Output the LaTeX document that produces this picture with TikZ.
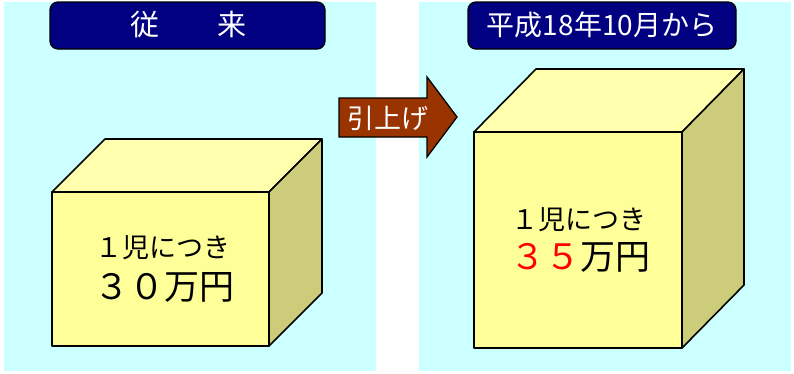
\documentclass[tikz,border=0pt]{standalone}
\usepackage{fontspec}
\setmainfont{Noto Sans CJK JP}
\definecolor{panel}{HTML}{CCFFFF}
\definecolor{navy}{HTML}{000080}
\definecolor{cubefront}{HTML}{FFFF99}
\definecolor{cubetop}{HTML}{FFFFAD}
\definecolor{cubeside}{HTML}{CCCC7A}
\definecolor{arrowbrown}{HTML}{993300}
\definecolor{bigred}{HTML}{FF0000}
\tikzset{
  panelbox/.style={fill=panel, draw=none, inner sep=0pt, outer sep=0pt, anchor=north west},
  titlebox/.style={draw=black, line width=1.3pt, fill=navy, rounded corners=8pt, text=white, inner sep=0pt},
  titletext/.style={text=white, inner sep=0pt},
  cubeface/.style={draw=black, line width=1.6pt, line join=round},
  smalltext/.style={inner sep=0pt, font=\fontsize{27}{30}\selectfont},
  bigtext/.style={inner sep=0pt, font=\fontsize{35}{40}\selectfont},
  arrowshape/.style={fill=arrowbrown, draw=black, line width=1.3pt, line join=miter},
}
\begin{document}
\begin{tikzpicture}[x=1pt,y=-1pt]
\useasboundingbox (0,0) rectangle (794,373);
% panels
\node[panelbox, minimum width=372, minimum height=369] (lp) at (4,2) {};
\node[panelbox, minimum width=372, minimum height=369] (rp) at (419,2) {};
% title boxes
\node[titlebox, minimum width=275, minimum height=47] (lt) at (187.5,25.5) {};
\node[titletext, font=\fontsize{29}{32}\selectfont] (ltt) at (188,25) {従　　来};
\node[titlebox, minimum width=268, minimum height=47] (rt) at (602,25.5) {};
\node[titletext, font=\fontsize{28}{32}\selectfont] (rtt) at (602,25) {平成18年10月から};
% left cube
\fill[cubefront] (52,192) rectangle (269,346);
\filldraw[cubeface, fill=cubetop] (52,192) -- (105,139) -- (322,139) -- (269,192) -- cycle;
\filldraw[cubeface, fill=cubeside] (269,192) -- (322,139) -- (322,293) -- (269,346) -- cycle;
\draw[cubeface] (52,192) rectangle (269,346);
\node[smalltext] (l1) at (163,248) {１児につき};
\node[bigtext] (l2) at (164,287) {３０万円};
% right cube
\fill[cubefront] (474,132) rectangle (682,348);
\filldraw[cubeface, fill=cubetop] (474,132) -- (536,69) -- (744,69) -- (682,132) -- cycle;
\filldraw[cubeface, fill=cubeside] (682,132) -- (744,69) -- (744,285) -- (682,348) -- cycle;
\draw[cubeface] (474,132) rectangle (682,348);
\node[smalltext] (r1) at (579,220) {１児につき};
\node[bigtext] (r2) at (580,257) {\textcolor{bigred}{３５}万円};
% arrow
\filldraw[arrowshape] (339,98) -- (427,98) -- (427,77) -- (457,117) -- (427,157) -- (427,137) -- (339,137) -- cycle;
\node[titletext, font=\fontsize{27}{30}\selectfont] (at) at (388,118) {引上げ};
\end{tikzpicture}
\end{document}
